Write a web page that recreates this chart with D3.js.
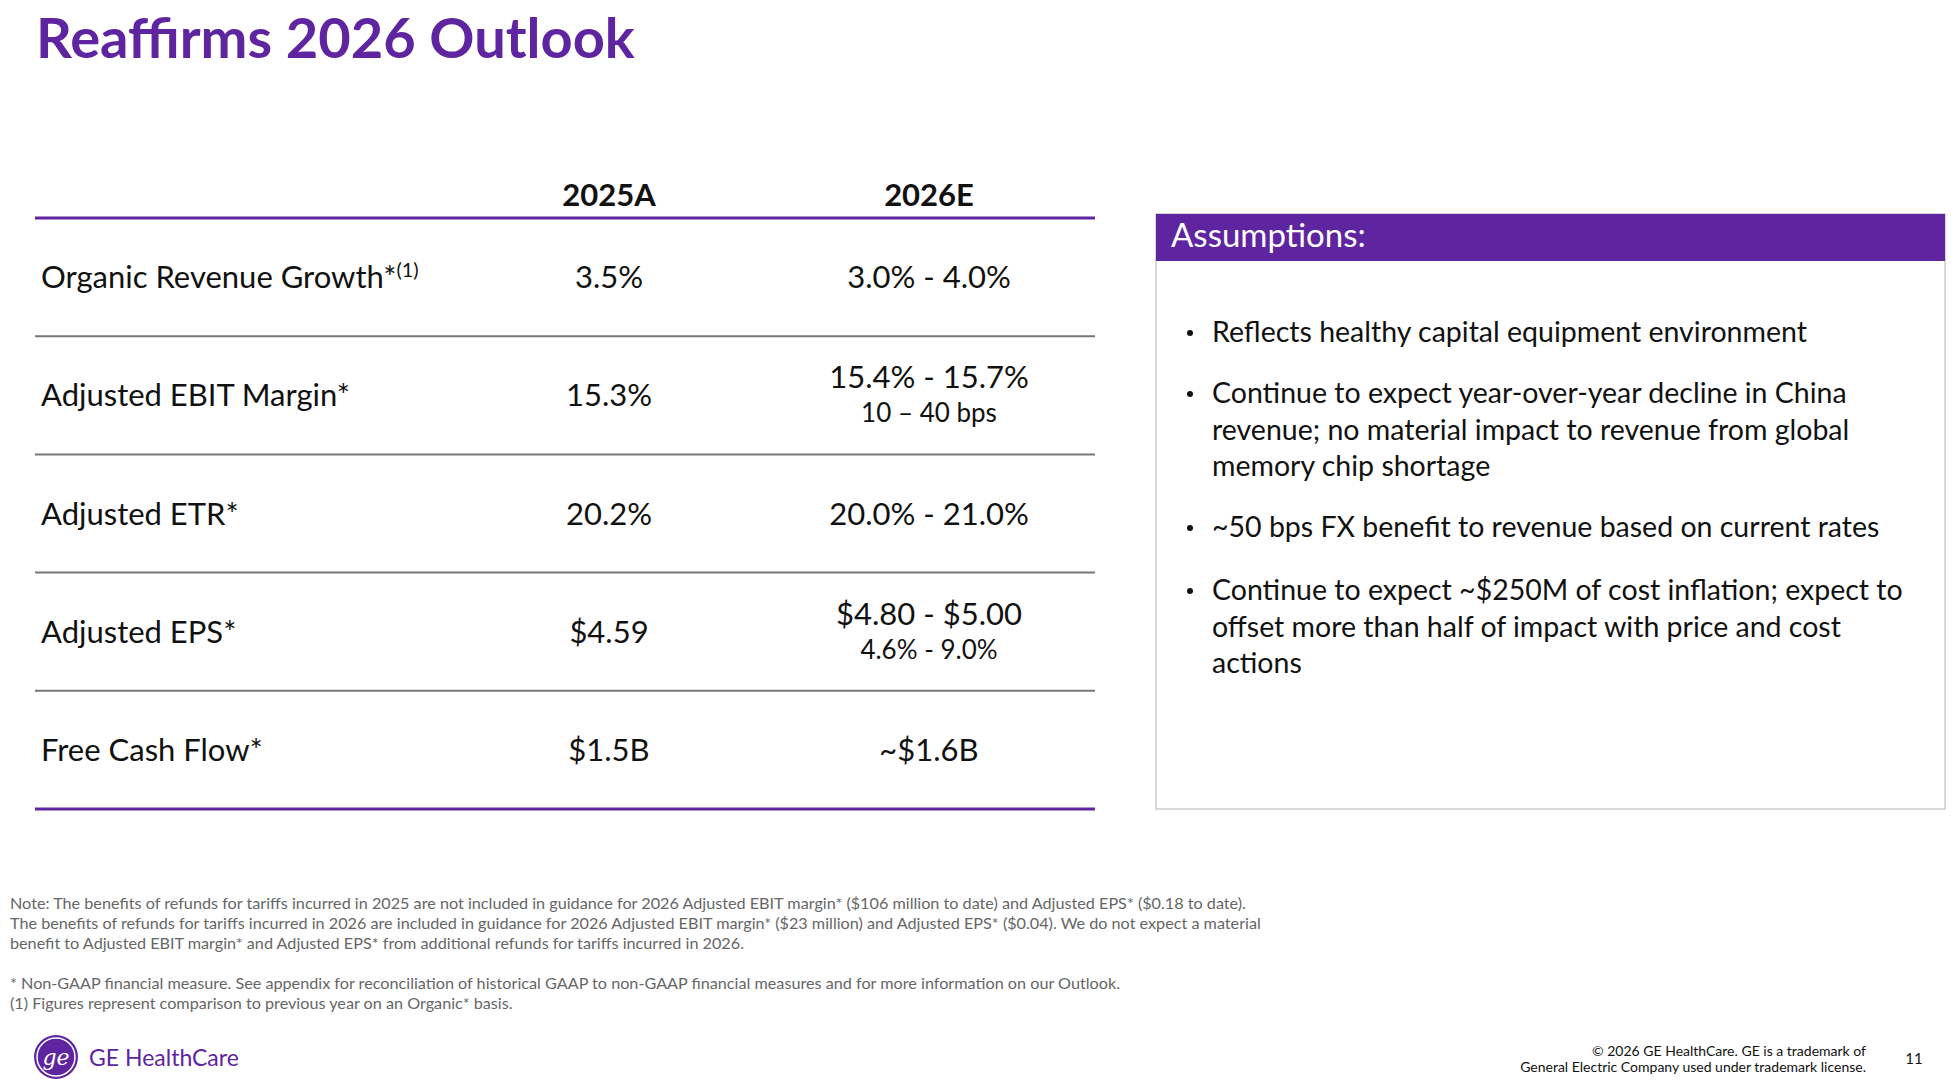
<!DOCTYPE html>
<html><head><meta charset="utf-8">
<script src="https://cdn.jsdelivr.net/npm/d3@7"></script>
<style>body{margin:0;background:#fff}svg{display:block;font-family:"Source Sans Pro","Lato","Noto Sans",sans-serif}</style>
</head><body>
<svg id="board"></svg>
<script>
let columns = ['2025A', '2026E']
let metrics = ['Organic Revenue Growth*', 'Adjusted EBIT Margin*', 'Adjusted ETR*', 'Adjusted EPS*', 'Free Cash Flow*']
let values2025 = ['3.5%', '15.3%', '20.2%', '$4.59', '$1.5B']
let values2026 = ['3.0% - 4.0%', '15.4% - 15.7%', '20.0% - 21.0%', '$4.80 - $5.00', '~$1.6B']
let sub2026 = ['', '10 – 40 bps', '', '4.6% - 9.0%', '']
let bullets = [
  ['Reflects healthy capital equipment environment'],
  ['Continue to expect year-over-year decline in China', 'revenue; no material impact to revenue from global', 'memory chip shortage'],
  ['~50 bps FX benefit to revenue based on current rates'],
  ['Continue to expect ~$250M of cost inflation; expect to', 'offset more than half of impact with price and cost', 'actions']
]
let notes = [
  'Note: The benefits of refunds for tariffs incurred in 2025 are not included in guidance for 2026 Adjusted EBIT margin* ($106 million to date) and Adjusted EPS* ($0.18 to date).',
  'The benefits of refunds for tariffs incurred in 2026 are included in guidance for 2026 Adjusted EBIT margin* ($23 million) and Adjusted EPS* ($0.04). We do not expect a material',
  'benefit to Adjusted EBIT margin* and Adjusted EPS* from additional refunds for tariffs incurred in 2026.',
  '',
  '* Non-GAAP financial measure. See appendix for reconciliation of historical GAAP to non-GAAP financial measures and for more information on our Outlook.',
  '(1) Figures represent comparison to previous year on an Organic* basis.'
]

let width = 1959, height = 1084
let purple = '#5f249f'
let board = d3.select('#board').attr('width', width).attr('height', height)

board.append('text').attr('x', 36).attr('y', 58).attr('fill', purple)
  .attr('font-size', 56).attr('font-weight', 700).text('Reaffirms 2026 Outlook')

// table
let yScale = d3.scaleBand().domain(metrics).range([218, 809])
let xScale = d3.scaleOrdinal().domain(columns).range([609, 929])

board.selectAll('.colhead').data(columns).enter().append('text')
  .attr('x', d => xScale(d)).attr('y', 206).attr('text-anchor', 'middle')
  .attr('font-size', 31).attr('font-weight', 700).attr('fill', '#111').text(d => d)

board.selectAll('.sep').data(metrics.slice(1)).enter().append('line')
  .attr('x1', 35).attr('x2', 1095).attr('y1', d => yScale(d)).attr('y2', d => yScale(d))
  .attr('stroke', '#777').attr('stroke-width', 2)
board.selectAll('.edge').data([218, 809]).enter().append('line')
  .attr('x1', 35).attr('x2', 1095).attr('y1', d => d).attr('y2', d => d)
  .attr('stroke', purple).attr('stroke-width', 3)

let rows = board.selectAll('.row').data(metrics).enter().append('g')
  .attr('transform', d => 'translate(0,' + (yScale(d) + yScale.bandwidth() / 2) + ')')

let lab = rows.append('text').attr('x', 41).attr('y', 11).attr('font-size', 31).attr('fill', '#111')
lab.append('tspan').text(d => d)
lab.filter((d, i) => i === 0).append('tspan').attr('dy', -11).attr('font-size', 20).text('(1)')

rows.append('text').attr('x', xScale('2025A')).attr('y', 11).attr('text-anchor', 'middle')
  .attr('font-size', 31).attr('fill', '#111').text((d, i) => values2025[i])
rows.append('text').attr('x', xScale('2026E')).attr('y', (d, i) => sub2026[i] ? -7 : 11).attr('text-anchor', 'middle')
  .attr('font-size', 31).attr('fill', '#111').text((d, i) => values2026[i])
rows.append('text').attr('x', xScale('2026E')).attr('y', 27).attr('text-anchor', 'middle')
  .attr('font-size', 26).attr('fill', '#111').text((d, i) => sub2026[i])

// assumptions box
board.append('rect').attr('x', 1156).attr('y', 214).attr('width', 789).attr('height', 595)
  .attr('fill', 'none').attr('stroke', '#ccc').attr('stroke-width', 1.5)
board.append('rect').attr('x', 1156).attr('y', 214).attr('width', 789).attr('height', 47).attr('fill', purple)
board.append('text').attr('x', 1171).attr('y', 247).attr('font-size', 33).attr('fill', '#fff').text('Assumptions:')

let bulletTops = [342, 403, 537, 600]
bullets.forEach((lines, i) => {
  board.append('circle').attr('cx', 1190).attr('cy', bulletTops[i] - 9).attr('r', 3).attr('fill', '#111')
  board.append('g').selectAll('text').data(lines).enter().append('text')
    .attr('x', 1212).attr('y', (d, j) => bulletTops[i] + j * 36.5)
    .attr('font-size', 28.5).attr('fill', '#111').text(d => d)
})

// notes
board.selectAll('.note').data(notes).enter().append('text')
  .attr('x', 10).attr('y', (d, i) => 909 + i * 20).attr('font-size', 16.2).attr('fill', '#666').text(d => d)

// footer
let logo = board.append('g').attr('transform', 'translate(56,1057)')
logo.append('circle').attr('r', 22).attr('fill', purple)
logo.append('circle').attr('r', 19).attr('fill', 'none').attr('stroke', '#fff').attr('stroke-width', 1.5)
logo.append('text').attr('y', 8).attr('text-anchor', 'middle').attr('font-size', 22)
  .attr('font-style', 'italic').attr('font-family', 'DejaVu Serif').attr('fill', '#fff').text('ge')
board.append('text').attr('x', 89).attr('y', 1066).attr('font-size', 23).attr('fill', purple).text('GE HealthCare')

board.selectAll('.copy').data(['© 2026 GE HealthCare. GE is a trademark of', 'General Electric Company used under trademark license.'])
  .enter().append('text').attr('x', 1866).attr('y', (d, i) => 1056 + i * 16).attr('text-anchor', 'end')
  .attr('font-size', 14).attr('fill', '#111').text(d => d)
board.append('text').attr('x', 1914).attr('y', 1064).attr('text-anchor', 'middle').attr('font-size', 15).attr('fill', '#111').text('11')
</script>
</body></html>
